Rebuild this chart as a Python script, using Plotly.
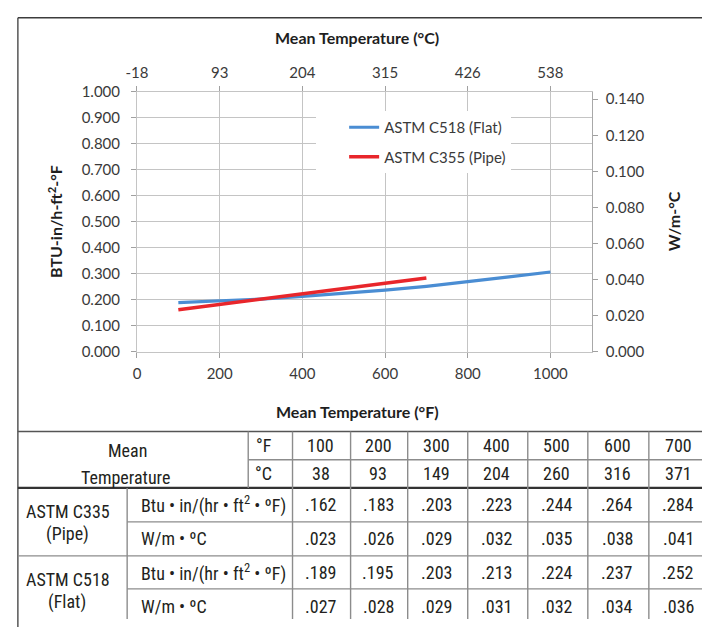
import plotly.graph_objects as go

# ---------------- data ----------------
temp_f = [100, 200, 300, 400, 500, 600, 700]
temp_c = [38, 93, 149, 204, 260, 316, 371]
pipe_btu = [0.162, 0.183, 0.203, 0.223, 0.244, 0.264, 0.284]
pipe_si = [0.023, 0.026, 0.029, 0.032, 0.035, 0.038, 0.041]
flat_btu = [0.189, 0.195, 0.203, 0.213, 0.224, 0.237, 0.252]
flat_si = [0.027, 0.028, 0.029, 0.031, 0.032, 0.034, 0.036]

# chart curves (flat curve continues to 1000 °F in the plot)
flat_curve_f = [100, 200, 300, 400, 500, 600, 700, 800, 900, 1000]
flat_curve_btu = [0.189, 0.195, 0.203, 0.213, 0.224, 0.237, 0.252, 0.269, 0.288, 0.307]
pipe_curve_f = [100, 200, 300, 400, 500, 600, 700]
pipe_curve_btu = [0.162, 0.183, 0.203, 0.223, 0.244, 0.264, 0.284]

x_tick_f = [0, 200, 400, 600, 800, 1000]
x_tick_c = ["-18", "93", "204", "315", "426", "538"]
y_tick_btu = [0.0, 0.1, 0.2, 0.3, 0.4, 0.5, 0.6, 0.7, 0.8, 0.9, 1.0]
y_tick_si = [0.0, 0.02, 0.04, 0.06, 0.08, 0.10, 0.12, 0.14]

series_names = ["ASTM C518 (Flat)", "ASTM C355 (Pipe)"]
table_groups = [["ASTM C335", "(Pipe)"], ["ASTM C518", "(Flat)"]]
unit_labels = ["Btu \u2022 in/(hr \u2022 ft<sup>2</sup> \u2022 \u00baF)", "W/m \u2022 \u00baC"]

# ---------------- layout geometry (page pixels) ----------------
W, H = 702, 627

def px(x):
    return x / W

def py(y):
    return 1 - y / H

CHART_FONT = "Lato, 'Open Sans', sans-serif"
TABLE_FONT = "'Liberation Sans Narrow', 'Roboto Condensed', Roboto, 'Liberation Sans', sans-serif"
TXT = "#3a3a3a"
GRID = "#c4c4c4"

fig = go.Figure()

fig.add_trace(go.Scatter(
    x=flat_curve_f, y=flat_curve_btu, mode="lines", name=series_names[0],
    line=dict(color="#4a8dd3", width=3.2), legendgroup="a",
    hoverinfo="skip"))
fig.add_trace(go.Scatter(
    x=pipe_curve_f, y=pipe_curve_btu, mode="lines", name=series_names[1],
    line=dict(color="#e8262b", width=3.6), legendgroup="b",
    hoverinfo="skip"))
# SI values on secondary axes (invisible, keeps the secondary axes alive)
fig.add_trace(go.Scatter(
    x=temp_f, y=pipe_si, xaxis="x2", yaxis="y2", mode="lines",
    line=dict(width=0), opacity=0, showlegend=False, hoverinfo="skip"))
fig.add_trace(go.Scatter(
    x=temp_f, y=flat_si, xaxis="x2", yaxis="y2", mode="lines",
    line=dict(width=0), opacity=0, showlegend=False, hoverinfo="skip"))
# table canvas axis
fig.add_trace(go.Scatter(x=[None], y=[None], xaxis="x3", yaxis="y3",
                         showlegend=False, hoverinfo="skip"))

tickfont = dict(family=CHART_FONT, size=15, color=TXT)
x_dom = [px(128), px(590)]
y_dom = [py(352), py(84)]
x_rng = [0, 1100]

fig.update_layout(
    width=W, height=H, autosize=False,
    margin=dict(l=0, r=0, t=0, b=0),
    paper_bgcolor="white", plot_bgcolor="rgba(0,0,0,0)",
    showlegend=True,
    legend=dict(x=px(310), y=py(104), xanchor="left", yanchor="top",
                bgcolor="white", borderwidth=0, indentation=28,
                font=dict(family=CHART_FONT, size=15, color=TXT),
                tracegroupgap=7, itemwidth=30),
    xaxis=dict(domain=x_dom, range=x_rng, tickvals=x_tick_f,
               showgrid=True, gridcolor=GRID, gridwidth=1,
               zeroline=False, showline=True, linecolor=GRID, linewidth=1,
               mirror=True,
               ticks="outside", ticklen=5, tickcolor="#a0a0a0",
               tickfont=tickfont, ticklabelstandoff=3, anchor="y"),
    xaxis2=dict(overlaying="x", side="top", range=x_rng, tickvals=x_tick_f,
                ticktext=x_tick_c, showgrid=False, zeroline=False,
                ticks="outside", ticklen=5, tickcolor="#a0a0a0",
                tickfont=tickfont, ticklabelstandoff=2, anchor="y"),
    yaxis=dict(domain=y_dom, range=[0, 1], tickvals=y_tick_btu,
               tickformat=".3f", showgrid=True, gridcolor=GRID, gridwidth=1,
               zeroline=False, showline=True, linecolor=GRID, linewidth=1,
               mirror=True,
               ticks="outside", ticklen=5, tickcolor="#a0a0a0",
               tickfont=tickfont, ticklabelstandoff=8, anchor="x"),
    yaxis2=dict(overlaying="y", side="right", range=[0, 0.1442],
                tickvals=y_tick_si, tickformat=".3f", showgrid=False,
                zeroline=False, showline=True, linecolor="#a8a8a8",
                linewidth=1, ticks="outside", ticklen=5,
                tickcolor="#a0a0a0", tickfont=tickfont,
                ticklabelstandoff=5, anchor="x2"),
    xaxis3=dict(domain=[0, 1], range=[0, W], visible=False,
                anchor="y3", fixedrange=True),
    yaxis3=dict(domain=[0, 1], range=[H, 0], visible=False,
                anchor="x3", fixedrange=True),
)

shapes = []
annotations = []

# outer frame of chart
shapes.append(dict(type="line", xref="paper", yref="paper",
                   x0=px(7), x1=px(720), y0=py(8), y1=py(8),
                   line=dict(color="#3c3c3c", width=1.3)))
shapes.append(dict(type="line", xref="paper", yref="paper",
                   x0=px(7), x1=px(7), y0=py(8), y1=py(640),
                   line=dict(color="#3c3c3c", width=1.3)))

# axis titles
title_font = dict(family=CHART_FONT, size=16, color="#1e1e1e")
annotations.append(dict(text="<b>Mean Temperature (\u00b0C)</b>", xref="paper", yref="paper",
                        x=px(352), y=py(28), showarrow=False, font=title_font,
                        xanchor="center", yanchor="middle"))
annotations.append(dict(text="<b>Mean Temperature (\u00b0F)</b>", xref="paper", yref="paper",
                        x=px(352), y=py(413), showarrow=False, font=title_font,
                        xanchor="center", yanchor="middle"))
annotations.append(dict(text="<b>BTU-in/h-ft<sup>2</sup>-\u00b0F</b>", xref="paper", yref="paper",
                        x=px(45), y=py(218), showarrow=False, font=title_font,
                        textangle=-90, xanchor="center", yanchor="middle"))
annotations.append(dict(text="<b>W/m-\u00b0C</b>", xref="paper", yref="paper",
                        x=px(673), y=py(217), showarrow=False, font=title_font,
                        textangle=-90, xanchor="center", yanchor="middle"))

# ---------------- table ----------------
col_edges = [286, 345, 403, 464, 525, 586, 648, 710]
row_edges = [434, 463, 492, 527, 562, 596, 632]
left_x, group_x, unit_x = 7, 118, 241
thin = dict(color="#8c8c8c", width=1.4)
thick = dict(color="#333333", width=2.4)

def hline(y, x0, x1, style):
    shapes.append(dict(type="line", xref="x3", yref="y3", x0=x0, x1=x1,
                       y0=y, y1=y, line=style))

def vline(x, y0, y1, style):
    shapes.append(dict(type="line", xref="x3", yref="y3", x0=x, x1=x,
                       y0=y0, y1=y1, line=style))

hline(row_edges[0], left_x, W + 10, dict(color="#555555", width=1.5))
hline(row_edges[1], unit_x, W + 10, thin)
hline(row_edges[2], left_x, W + 10, thick)
hline(row_edges[3], group_x, W + 10, thin)
hline(row_edges[4], left_x, W + 10, thin)
hline(row_edges[5], group_x, W + 10, thin)
vline(group_x, row_edges[2], H + 10, thin)
vline(unit_x, row_edges[0], row_edges[2], thin)
for xe in col_edges:
    vline(xe, row_edges[0], H + 10, thin)

tfont = dict(family=TABLE_FONT, size=18, color="#231f20")

def cell(text, x, y, anchor="center"):
    annotations.append(dict(text=text, xref="x3", yref="y3", x=x, y=y,
                            showarrow=False, font=tfont, xanchor=anchor,
                            yanchor="middle"))

row_mid = [(row_edges[i] + row_edges[i + 1]) / 2 for i in range(len(row_edges) - 1)]
col_mid = [(col_edges[i] + col_edges[i + 1]) / 2 for i in range(len(col_edges) - 1)]

cell("Mean", 118, row_mid[0] + 5)
cell("Temperature", 116, row_mid[1] + 4)
cell("\u00b0F", 257, row_mid[0])
cell("\u00b0C", 257, row_mid[1])

value_rows = [
    [str(v) for v in temp_f],
    [str(v) for v in temp_c],
    [f"{v:.3f}".lstrip("0") for v in pipe_btu],
    [f"{v:.3f}".lstrip("0") for v in pipe_si],
    [f"{v:.3f}".lstrip("0") for v in flat_btu],
    [f"{v:.3f}".lstrip("0") for v in flat_si],
]
for r, vals in enumerate(value_rows):
    for c, txt in enumerate(vals):
        cell(txt, col_mid[c] - 1, row_mid[r])

for g, (name1, name2) in enumerate(table_groups):
    top = row_edges[2 + 2 * g]
    bot = row_edges[4 + 2 * g]
    mid = (top + bot) / 2
    cell(name1, 58, mid - 11)
    cell(name2, 57, mid + 12)
    cell(unit_labels[0], group_x + 12, row_mid[2 + 2 * g], anchor="left")
    cell(unit_labels[1], group_x + 12, row_mid[3 + 2 * g], anchor="left")

fig.update_layout(shapes=shapes, annotations=annotations)

fig.write_html(
    "out.html",
    config={"displayModeBar": False},
    post_script=(
        "document.documentElement.style.margin='0';"
        "document.body.style.margin='0';"
        "document.body.style.overflow='hidden';"
        "document.documentElement.style.overflow='hidden';"
    ),
)
